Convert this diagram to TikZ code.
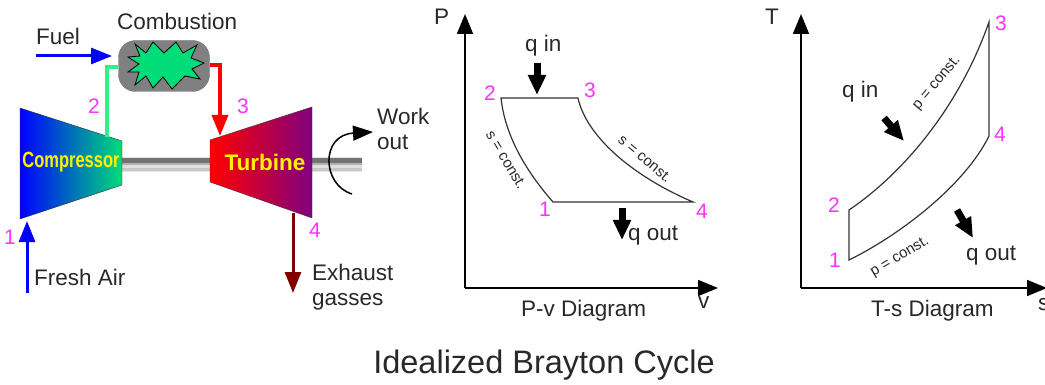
\documentclass[tikz,border=0pt]{standalone}
\usepackage{fontspec}
\setmainfont{Liberation Sans}
\usetikzlibrary{arrows.meta}
\definecolor{statepink}{RGB}{255,50,255}
\definecolor{fuelblue}{RGB}{0,0,255}
\definecolor{pipegreen}{RGB}{50,240,130}
\definecolor{flamegreen}{RGB}{0,220,120}
\definecolor{exhaustred}{RGB}{128,0,0}
\definecolor{turbinepurple}{RGB}{128,0,128}
\definecolor{labelgray}{RGB}{40,40,40}
\tikzset{
  statenum/.style={text=statepink,inner sep=0pt,font=\fontsize{21}{21}\selectfont},
  lbl/.style={text=labelgray,inner sep=0pt,anchor=west,font=\fontsize{22.5}{25}\selectfont},
  small/.style={text=labelgray,inner sep=0pt,font=\fontsize{15}{15}\selectfont},
  flow/.style={line width=3pt,-{Triangle[length=21pt,width=16pt]}},
  heat/.style={line width=7pt,-{Triangle[length=20pt,width=17pt]}},
  axis/.style={line width=1.8pt,-{Triangle[length=20pt,width=16pt]}},
  cycle line/.style={line width=1.2pt,draw=black!80}
}
\begin{document}
\begin{tikzpicture}[x=1pt,y=-1pt]
\path[use as bounding box] (0,0) rectangle (1045,385);
% shaft
\fill[black!10] (122,157) rectangle (362,172);
\fill[black!55] (122,158) rectangle (362,163);
\fill[black!30] (122,163) rectangle (362,165);
\fill[black!12] (122,165) rectangle (362,168);
\fill[black!22] (122,168) rectangle (362,171);
% compressor and turbine
\draw[left color=fuelblue,right color=flamegreen,draw=black!80] (20,108) -- (122,141) -- (122,185) -- (20,219) -- cycle;
\draw[left color=red,right color=turbinepurple,draw=black!80] (210,140) -- (312,107) -- (312,218) -- (210,182) -- cycle;
\node[inner sep=0pt,text=yellow,font=\bfseries\fontsize{22}{22}\selectfont,xscale=.75] (compressor) at (71,162) {Compressor};
\node[inner sep=0pt,text=yellow,font=\bfseries\fontsize{22.5}{22}\selectfont] (turbine) at (265,162) {Turbine};
% burner
\node[draw=black!55,fill=black!50,rounded corners=17pt,minimum width=91pt,minimum height=51pt,inner sep=0pt] (burner) at (164,66) {};
\draw[fill=flamegreen,line width=.8pt] (135,44) -- (146,53) -- (153,42) -- (164,53) -- (176,42) -- (183,53) -- (197,45) -- (191,58)
  -- (204,63) -- (192,69) -- (200,79) -- (185,76) -- (172,89) -- (163,77) -- (153,88) -- (146,76)
  -- (135,85) -- (139,72) -- (128,72) -- (139,64) -- (128,57) -- (140,56) -- cycle;
\node[lbl] (combustion) at (117,21) {Combustion};
% pipes
\coordinate (comp out) at (107,137);
\coordinate (turb in) at (220,136);
\draw[draw=pipegreen,line width=3.5pt] (comp out) |- (burner.west |- 0,67);
\draw[draw=red,line width=3.5pt,-{Triangle[length=21pt,width=16pt]}] (burner.east |- 0,65) -| (turb in);
% fuel, air, exhaust
\coordinate (fuel start) at (36,56);
\coordinate (fuel end) at (112,56);
\coordinate (air start) at (27,293);
\coordinate (air end) at (27,221);
\coordinate (exhaust start) at (293,213);
\coordinate (exhaust end) at (293,293);
\draw[flow,draw=fuelblue] (fuel start) -- (fuel end);
\draw[flow,draw=fuelblue] (air start) -- (air end);
\draw[flow,draw=exhaustred] (exhaust start) -- (exhaust end);
\node[lbl] (fuel) at (36,36) {Fuel};
\node[lbl] (air) at (34,277) {Fresh Air};
\node[lbl,align=left] (exhaust) at (312,287) {Exhaust\\gasses};
\node[lbl,align=left] (work) at (377,129) {Work\\out};
% work arrow
\draw[line width=1.5pt,-{Triangle[length=20pt,width=15pt]}] (352,194) .. controls (322,185) and (320,135) .. (373,132);
% state numbers, plant
\node[statenum] (p1) at (10,237) {1};
\node[statenum] (p2) at (94,106) {2};
\node[statenum] (p3) at (243,106) {3};
\node[statenum] (p4) at (315,230) {4};
% P-v diagram
\coordinate (pv origin) at (465,288);
\coordinate (pv top) at (465,14);
\coordinate (pv right) at (718,288);
\draw[axis] (pv origin) -- (pv top);
\draw[axis] (pv origin) -- (pv right);
\node[lbl] (pv p) at (434,17) {P};
\node[lbl] (pv v) at (698,303) {v};
\node[lbl] (pv name) at (521,311) {P-v Diagram};
\coordinate (pv2) at (501,98);
\coordinate (pv3) at (578,98);
\coordinate (pv4) at (693,202);
\coordinate (pv1) at (553,202);
\draw[cycle line] (pv2) -- (pv3) .. controls (586,135) and (630,175) .. (pv4) -- (pv1) .. controls (525,170) and (505,135) .. (pv2) -- cycle;
\node[statenum] (pv n2) at (490,93) {2};
\node[statenum] (pv n3) at (590,90) {3};
\node[statenum] (pv n4) at (702,211) {4};
\node[statenum] (pv n1) at (545,209) {1};
\node[small,rotate=-59] (pv s1) at (506,160) {s = const.};
\node[small,rotate=-40] (pv s2) at (645,159) {s = const.};
\coordinate (qin top) at (537,63);
\coordinate (qin end) at (537,95);
\coordinate (qout top) at (622,208);
\coordinate (qout end) at (622,240);
\draw[heat] (qin top) -- (qin end);
\draw[heat] (qout top) -- (qout end);
\node[lbl] (pv qin) at (525,46) {q in};
\node[lbl] (pv qout) at (628,236) {q out};
% T-s diagram
\coordinate (ts origin) at (801,288);
\coordinate (ts top) at (801,14);
\coordinate (ts right) at (1047,288);
\draw[axis] (ts origin) -- (ts top);
\draw[axis] (ts origin) -- (ts right);
\node[lbl] (ts t) at (765,17) {T};
\node[lbl] (ts s) at (1038,305) {s};
\node[lbl] (ts name) at (871,311) {T-s Diagram};
\coordinate (ts1) at (849,260);
\coordinate (ts2) at (849,210);
\coordinate (ts3) at (989,22);
\coordinate (ts4) at (989,136);
\draw[cycle line] (ts1) -- (ts2) .. controls (905,172) and (960,105) .. (ts3) -- (ts4) .. controls (965,185) and (900,235) .. (ts1) -- cycle;
\node[statenum] (ts n1) at (835,260) {1};
\node[statenum] (ts n2) at (834,205) {2};
\node[statenum] (ts n3) at (1001,23) {3};
\node[statenum] (ts n4) at (1000,134) {4};
\node[small,rotate=50] (ts p1) at (937,83) {p = const.};
\node[small,rotate=31] (ts p2) at (900,257) {p = const.};
\coordinate (ts qin top) at (884,118);
\coordinate (ts qin end) at (904,141);
\coordinate (ts qout top) at (957,210);
\coordinate (ts qout end) at (973,238);
\draw[heat] (ts qin top) -- (ts qin end);
\draw[heat] (ts qout top) -- (ts qout end);
\node[lbl] (ts qin) at (842,92) {q in};
\node[lbl] (ts qout) at (966,256) {q out};
% title
\node[inner sep=0pt,text=labelgray,font=\fontsize{32.5}{32}\selectfont] (title) at (544,365) {Idealized Brayton Cycle};
\end{tikzpicture}
\end{document}
